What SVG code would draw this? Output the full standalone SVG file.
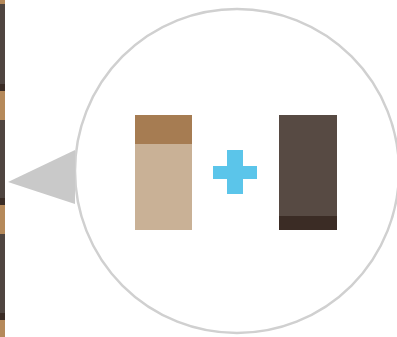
<svg xmlns="http://www.w3.org/2000/svg" width="397" height="337" viewBox="0 0 397 337">
<style>
.dark{fill:#4f4540}.darker{fill:#3a2c25}.tan{fill:#b5895a}
</style>
<rect width="397" height="337" fill="#ffffff"/>
<g id="strip">
<rect class="dark" x="0" y="0" width="5" height="337"/>
<rect class="tan" x="0" y="0" width="5" height="4"/>
<rect class="darker" x="0" y="84" width="5" height="7"/>
<rect class="tan" x="0" y="91" width="5" height="29"/>
<rect class="darker" x="0" y="198" width="5" height="7"/>
<rect class="tan" x="0" y="205" width="5" height="29"/>
<rect class="darker" x="0" y="313" width="5" height="7"/>
<rect class="tan" x="0" y="320" width="5" height="17"/>
</g>
<g id="bubble">
<circle cx="237" cy="171" r="162" fill="#ffffff" stroke="#d0d0d0" stroke-width="2.5"/>
<polygon points="8,182 75,150 75,204" fill="#c9c9c9"/>
</g>
<g id="left-block">
<rect x="135" y="115" width="57" height="115" fill="#c9b196"/>
<rect x="135" y="115" width="57" height="29" fill="#a67c52"/>
</g>
<g id="plus">
<rect x="213" y="166" width="44" height="13" fill="#5bc5ea"/>
<rect x="227" y="150" width="16" height="44" fill="#5bc5ea"/>
</g>
<g id="right-block">
<rect x="279" y="115" width="58" height="115" fill="#574a43"/>
<rect x="279" y="216" width="58" height="14" fill="#3b2c25"/>
</g>
</svg>
